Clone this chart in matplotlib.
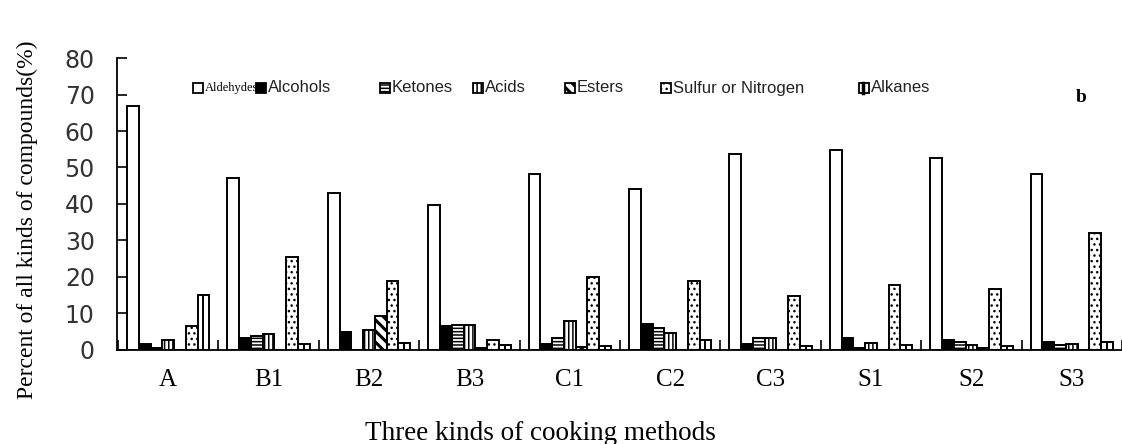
import numpy as np
import matplotlib.pyplot as plt
from matplotlib.patches import Rectangle

categories = ['A', 'B1', 'B2', 'B3', 'C1', 'C2', 'C3', 'S1', 'S2', 'S3']

aldehydes = [66.8, 47.2, 43.0, 39.6, 48.3, 44.0, 53.7, 54.8, 52.6, 48.2]
alcohols = [1.4, 3.2, 4.8, 6.5, 1.4, 6.9, 1.4, 3.2, 2.6, 2.0]
ketones = [0.5, 3.7, 0.0, 6.8, 3.2, 5.8, 3.2, 0.5, 2.0, 1.1]
acids = [2.6, 4.2, 5.3, 6.8, 7.9, 4.6, 3.2, 1.8, 1.1, 1.4]
esters = [0.0, 0.0, 9.1, 0.4, 0.8, 0.0, 0.0, 0.0, 0.5, 0.0]
sulfur_nitrogen = [6.5, 25.5, 18.9, 2.5, 19.8, 18.9, 14.6, 17.8, 16.7, 32.0]
alkanes = [15.0, 1.4, 1.7, 1.3, 0.9, 2.6, 0.9, 1.1, 1.0, 2.0]

series_names = ['Aldehydes', 'Alcohols', 'Ketones', 'Acids', 'Esters',
                'Sulfur or Nitrogen', 'Alkanes']
series = [aldehydes, alcohols, ketones, acids, esters, sulfur_nitrogen, alkanes]

# fill colour, hatch, hatch line width for each compound class
styles = [
    ('white', '', 1.0),
    ('black', '', 1.0),
    ('white', '-----', 1.1),
    ('white', '||||', 1.1),
    ('white', '\\\\\\', 2.2),
    ('white', '...', 1.0),
    ('white', '', 1.0),
]

SERIF = 'Liberation Serif'
SANS = 'Liberation Sans'
BAR_W = 0.117
EDGE_LW = 1.4


def draw_bars(ax):
    x = np.arange(len(categories))
    for k, (vals, (fc, hatch, hlw)) in enumerate(zip(series, styles)):
        bars = ax.bar(x + (k - 3) * BAR_W, vals, BAR_W, color=fc,
                      edgecolor='black', linewidth=EDGE_LW, hatch=hatch)
        for b in bars:
            if hasattr(b, 'set_hatch_linewidth'):
                b.set_hatch_linewidth(hlw)
    # alkanes bars carry a single line down the middle
    ax.vlines(x + 3 * BAR_W, 0, alkanes, color='black', linewidth=EDGE_LW)


def setup_axes(ax):
    ax.set_xlim(-0.51, 9.47)
    ax.set_ylim(0, 80)
    ax.spines['top'].set_visible(False)
    ax.spines['right'].set_visible(False)
    ax.spines['left'].set_linewidth(1.3)
    ax.spines['bottom'].set_linewidth(1.3)

    ax.set_yticks(np.arange(0, 81, 10))
    ax.tick_params(axis='y', direction='in', length=7, width=1.2, pad=16,
                   labelsize=17)
    for t in ax.get_yticklabels():
        t.set_fontfamily('DejaVu Sans')
        t.set_color('#333333')

    ax.set_xticks(np.arange(len(categories)))
    ax.set_xticklabels(categories, fontsize=18, fontfamily=SERIF)
    ax.tick_params(axis='x', length=0, pad=14)
    ax.set_xticks(np.arange(len(categories) + 1) - 0.5, minor=True)
    ax.tick_params(axis='x', which='minor', direction='in', length=7, width=1.2)


def draw_legend(fig):
    W, H = 1122, 444
    lefts = [193, 256, 380, 473, 565, 661, 859]
    yc = 88
    for name, (fc, hatch, hlw), px in zip(series_names, styles, lefts):
        r = Rectangle((px / W, 1 - (yc + 5) / H), 10 / W, 10 / H,
                      transform=fig.transFigure, facecolor=fc,
                      edgecolor='black', linewidth=1.3, hatch=hatch)
        if hasattr(r, 'set_hatch_linewidth'):
            r.set_hatch_linewidth(hlw)
        fig.add_artist(r)
        if name == 'Alkanes':
            fig.add_artist(plt.Line2D([(px + 4) / W] * 2,
                                      [1 - (yc + 5) / H, 1 - (yc - 5) / H],
                                      transform=fig.transFigure,
                                      color='black', linewidth=2.5))
        if name == 'Aldehydes':
            fig.text((px + 12) / W, 1 - yc / H, name, fontsize=9,
                     fontfamily=SERIF, va='center')
        else:
            fig.text((px + 12) / W, 1 - yc / H, name, fontsize=12,
                     fontfamily=SANS, va='center', color='#222222')


def main():
    fig = plt.figure(figsize=(11.22, 4.44), dpi=100)
    ax = fig.add_axes([117 / 1122, 94.5 / 444, 1005 / 1122, 291.2 / 444])

    draw_bars(ax)
    setup_axes(ax)
    draw_legend(fig)

    fig.text(27 / 1122, 1 - 220 / 444, 'Percent of all kinds of compounds(%)',
             rotation=90, ha='center', va='center', fontsize=17,
             fontfamily=SERIF)
    fig.text(540 / 1122, 4 / 444, 'Three kinds of cooking methods',
             ha='center', va='baseline', fontsize=19.5, fontfamily=SERIF)
    fig.text(1081 / 1122, 1 - 97 / 444, 'b', ha='center', va='center',
             fontsize=14, fontfamily=SERIF, fontweight='bold')

    fig.savefig('out.png', dpi=100)


if __name__ == "__main__":
    main()
